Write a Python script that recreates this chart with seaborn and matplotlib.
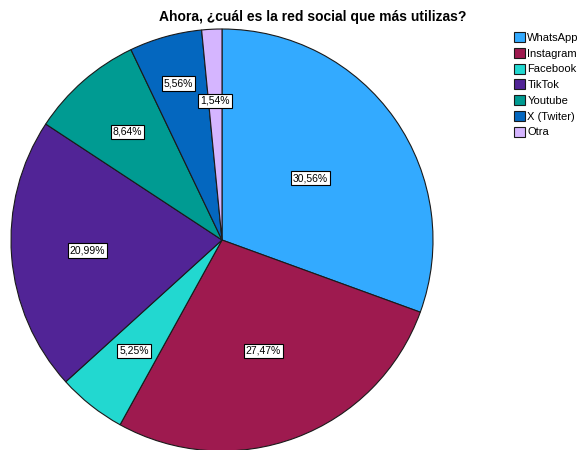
import numpy as np
import matplotlib
matplotlib.use("Agg")
import matplotlib.pyplot as plt
import seaborn as sns

categories = ["WhatsApp", "Instagram", "Facebook", "TikTok", "Youtube", "X (Twiter)", "Otra"]
percentages = [30.56, 27.47, 5.25, 20.99, 8.64, 5.56, 1.54]
title = "Ahora, ¿cuál es la red social que más utilizas?"

colors = ["#33AAFF", "#9E1A4F", "#22D8D0", "#512496", "#009B92", "#0467BF", "#D5B5FF"]
label_dist = [0.51, 0.56, 0.67, 0.64, 0.68, 0.77, 0.66]

sns.set_theme(style="white")
plt.rcParams['font.family'] = ['Liberation Sans', 'DejaVu Sans']
plt.rcParams['text.color'] = 'black'

fig = plt.figure(figsize=(5.83, 4.5), dpi=100)
cx, cy, R = 222, 240, 211
W, H = 583, 450
ax = fig.add_axes([(cx - R) / W, (H - cy - R) / H, 2 * R / W, 2 * R / H])
wedges, _ = ax.pie(percentages, colors=colors, startangle=90, counterclock=False,
                   radius=1.0, wedgeprops=dict(edgecolor="#1a1a1a", linewidth=0.8),
                   normalize=True)
for w in wedges:
    w.set_clip_on(False)
ax.set_xlim(-1, 1)
ax.set_ylim(-1, 1)
ax.set_aspect("auto")
ax.axis("off")

for w, p, d in zip(wedges, percentages, label_dist):
    ang = np.deg2rad((w.theta1 + w.theta2) / 2)
    ax.text(d * np.cos(ang), d * np.sin(ang), f"{p:.2f}%".replace(".", ","),
            ha="center", va="center", fontsize=7.5, color="black",
            bbox=dict(boxstyle="square,pad=0.2", facecolor="white", edgecolor="black", linewidth=0.8))

fig.text(313 / W, 1 - 17 / H, title, ha="center", va="center", fontsize=10,
         fontweight="bold", color="black")

leg = fig.legend(wedges, categories, loc="upper left", bbox_to_anchor=(514 / W, 1 - 32 / H),
                 frameon=False, fontsize=8, handlelength=0.95, handleheight=1.0,
                 handletextpad=0.25, labelspacing=0.45, borderaxespad=0, borderpad=0,
                 labelcolor="black")

fig.savefig("out.png", dpi=100)
